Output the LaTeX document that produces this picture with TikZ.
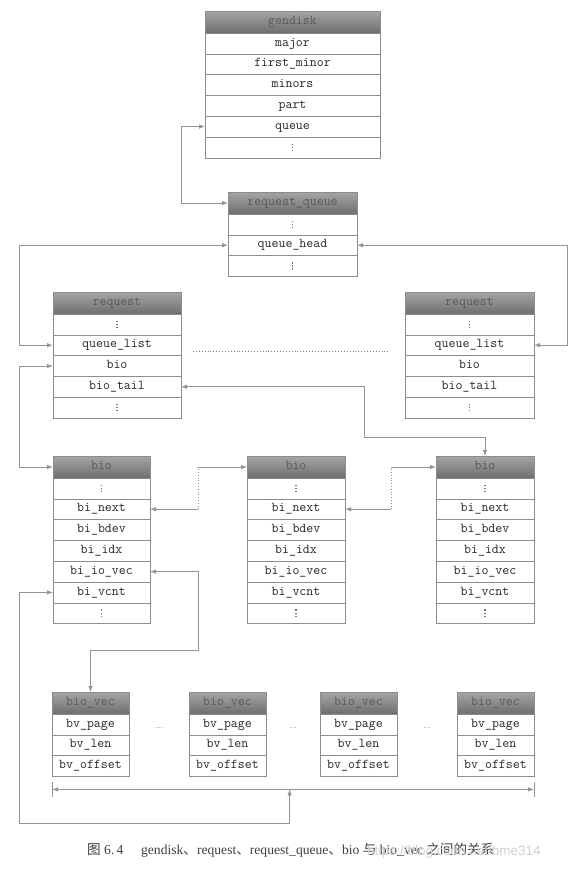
\documentclass[tikz,border=0pt]{standalone}
\usepackage{fontspec}
\setmainfont{Liberation Serif}
\setmonofont{Latin Modern Mono}
\newfontfamily\cjk{Noto Sans CJK SC}
\newfontfamily\wmfont{Liberation Sans}
\usetikzlibrary{arrows.meta,calc}
\newcommand{\vdotdot}{\hbox{\rule{1.3pt}{1.3pt}}}
\newcommand{\vd}{{\color{black!55}\raisebox{-1pt}{\vbox{\offinterlineskip\vdotdot\kern1.8pt\vdotdot\kern1.8pt\vdotdot}}}}
\tikzset{
  box/.style={draw=black!45, line width=0.6pt, rectangle, inner sep=0pt, outer sep=0pt,
    text height=8pt, text depth=2.5pt, align=center},
  hdr/.style={box, minimum height=22pt, top color=black!35, bottom color=black!57,
    text=black!65, font=\ttfamily\fontsize{13.5}{15}\selectfont},
  fld/.style={box, fill=white, minimum height=20.8pt, text=black!85,
    font=\ttfamily\fontsize{13.5}{15}\selectfont},
  link/.style={draw=black!42, line width=0.8pt},
  hdots/.style={text=black!55, font=\footnotesize, inner sep=0pt},
  >={Latex[length=6pt,width=4.5pt]}
}
\newcommand{\mkstruct}[6]{%
  \node[hdr, minimum width=#4pt, anchor=north west] (#1-h) at (#2,#3) {#5};
  \foreach \ftxt [count=\fidx] in {#6} {
    \node[fld, minimum width=#4pt, anchor=north west] (#1-\fidx) at (#2,{#3+22+(\fidx-1)*20.8}) {\ftxt};
  }
}
\begin{document}
\begin{tikzpicture}[x=1pt,y=-1pt]
\useasboundingbox (0,0) rectangle (578,873);
\fill[white] (0,0) rectangle (578,873);

% structures
\mkstruct{gd}{205}{11}{175}{gendisk}{major,first\_minor,minors,part,queue,\vd}
\mkstruct{rq}{228}{192}{129}{request\_queue}{\vd,queue\_head,\vd}
\mkstruct{ra}{53}{292}{128}{request}{\vd,queue\_list,bio,bio\_tail,\vd}
\mkstruct{rb}{405}{292}{129}{request}{\vd,queue\_list,bio,bio\_tail,\vd}
\mkstruct{ba}{53}{456}{97}{bio}{\vd,bi\_next,bi\_bdev,bi\_idx,bi\_io\_vec,bi\_vcnt,\vd}
\mkstruct{bb}{247}{456}{98}{bio}{\vd,bi\_next,bi\_bdev,bi\_idx,bi\_io\_vec,bi\_vcnt,\vd}
\mkstruct{bc}{436}{456}{98}{bio}{\vd,bi\_next,bi\_bdev,bi\_idx,bi\_io\_vec,bi\_vcnt,\vd}
\mkstruct{va}{52}{692}{77}{bio\_vec}{bv\_page,bv\_len,bv\_offset}
\mkstruct{vb}{189}{692}{77}{bio\_vec}{bv\_page,bv\_len,bv\_offset}
\mkstruct{vc}{320}{692}{77}{bio\_vec}{bv\_page,bv\_len,bv\_offset}
\mkstruct{vd}{457}{692}{77}{bio\_vec}{bv\_page,bv\_len,bv\_offset}

% ellipses between bio_vec boxes
\node[hdots] (e1) at ($(va-1.east)!.5!(vb-1.west)+(0,3.5)$) {\ldots};
\node[hdots] (e2) at ($(vb-1.east)!.5!(vc-1.west)+(0,3.5)$) {\ldots};
\node[hdots] (e3) at ($(vc-1.east)!.5!(vd-1.west)+(0,3.5)$) {\ldots};

% gendisk.queue <-> request_queue
\draw[link,<->] (gd-5.west) -- ++(-24,0) |- (rq-h.west);
% queue_head <-> queue_list (both requests)
\draw[link,<->] (rq-2.west) -| ([xshift=-34pt]ra-2.west) -- (ra-2.west);
\draw[link,<->] (rq-2.east) -| ([xshift=33pt]rb-2.east) -- (rb-2.east);
% dotted line between the requests
\draw[black!50, dotted, line width=0.9pt] ([xshift=12pt,yshift=-6pt]ra-2.east) -- ([xshift=-17pt,yshift=-6pt]rb-2.west);
% request.bio <-> first bio
\draw[link,<->] (ra-3.west) -- ++(-34,0) |- (ba-h.west);
% request.bio_tail <-> last bio
\draw[link,<->] (ra-4.east) -- ++(183,0) |- ([yshift=19pt]bc-h.north) -- (bc-h.north);
% bi_next chains
\draw[link,<-] (ba-2.east) -- ++(48,0) coordinate (k1);
\draw[link,dotted] (k1) -- (k1 |- bb-h.west) coordinate (k1t);
\draw[link,->] (k1t) -- (bb-h.west);
\draw[link,<-] (bb-2.east) -- ++(46,0) coordinate (k2);
\draw[link,dotted] (k2) -- (k2 |- bc-h.west) coordinate (k2t);
\draw[link,->] (k2t) -- (bc-h.west);
% bi_io_vec <-> first bio_vec
\draw[link,<->] (ba-5.east) -- ++(48,0) |- ([yshift=42pt]va-h.north) -- (va-h.north);
% bracket under the bio_vec array
\coordinate (brL) at ([yshift=-13pt]va-3.south west);
\coordinate (brR) at ([yshift=-13pt]vd-3.south east);
\path (brL) -- (brR) coordinate[pos=0.493] (brM);
\draw[link,<->] (brL) -- (brR);
\draw[link] ([yshift=7pt]brL) -- ([yshift=-8pt]brL);
\draw[link] ([yshift=7pt]brR) -- ([yshift=-8pt]brR);
% bi_vcnt <-> bracket
\draw[link,<->] (ba-6.west) -- ++(-34,0) |- ([yshift=-34pt]brM) -- (brM);

% caption
\node[anchor=west, inner sep=0pt, text=black!75, font=\fontsize{13.6}{15}\selectfont] (cap) at (87,850)
  {{\cjk 图}\ 6.\,4\hspace{1.3em}gendisk{\cjk 、}request{\cjk 、}request\_queue{\cjk 、}bio {\cjk 与} bio\_vec {\cjk 之间的关系}};
\node[anchor=west, inner sep=0pt, text=black!18, font=\wmfont\fontsize{13.5}{15}\selectfont] (wm) at (367,852)
  {https://blog.csdn.net/bme314};
\end{tikzpicture}
\end{document}
